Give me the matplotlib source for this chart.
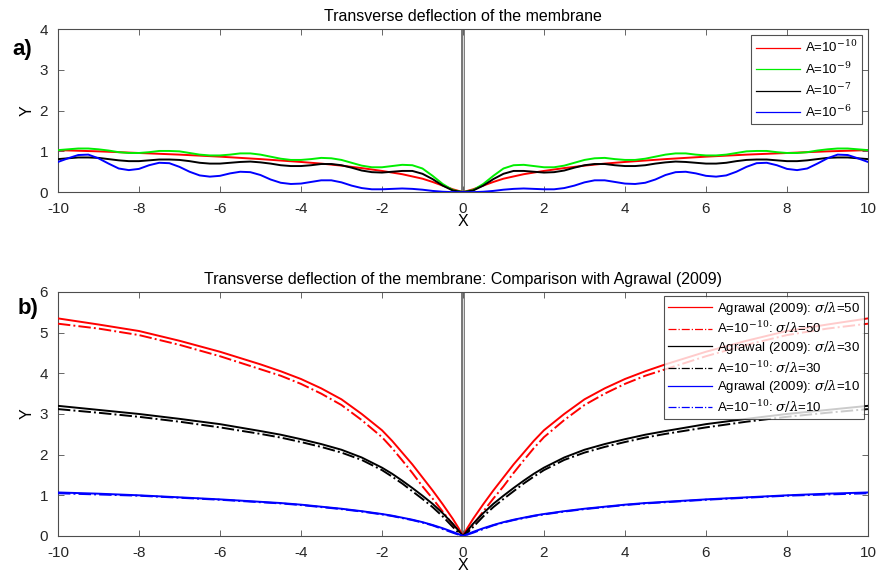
import matplotlib.pyplot as plt
from matplotlib.lines import Line2D
import numpy as np

plt.rcParams['font.family'] = ['Liberation Sans', 'DejaVu Sans']
plt.rcParams['mathtext.fontset'] = 'dejavuserif'
plt.rcParams['axes.unicode_minus'] = False

# --- DATA: panel a (right half, x >= 0; mirrored for x < 0) ---
X_A = [0, 0.25, 0.5, 0.75, 1.0, 1.25, 1.5, 1.75, 2.0, 2.25, 2.5, 2.75, 3.0, 3.25,
       3.5, 3.75, 4.0, 4.25, 4.5, 4.75, 5.0, 5.25, 5.5, 5.75, 6.0, 6.25, 6.5, 6.75,
       7.0, 7.25, 7.5, 7.75, 8.0, 8.25, 8.5, 8.75, 9.0, 9.25, 9.5, 9.75, 10.0]
Y_A9 = [0, 0.05, 0.2, 0.4, 0.58, 0.66, 0.67, 0.64, 0.61, 0.61, 0.65, 0.72, 0.79, 0.83,
        0.84, 0.81, 0.79, 0.79, 0.82, 0.87, 0.92, 0.95, 0.95, 0.92, 0.90, 0.90, 0.92, 0.96,
        1.0, 1.01, 1.01, 0.98, 0.96, 0.96, 0.98, 1.02, 1.05, 1.07, 1.07, 1.05, 1.03]
Y_A7 = [0, 0.04, 0.16, 0.32, 0.45, 0.52, 0.52, 0.50, 0.48, 0.49, 0.53, 0.60, 0.66, 0.69,
        0.69, 0.66, 0.64, 0.64, 0.66, 0.70, 0.73, 0.75, 0.74, 0.72, 0.70, 0.70, 0.72, 0.76,
        0.79, 0.80, 0.80, 0.78, 0.76, 0.76, 0.78, 0.81, 0.84, 0.85, 0.85, 0.83, 0.81]
Y_A6 = [0, 0.0, 0.01, 0.03, 0.06, 0.08, 0.09, 0.08, 0.07, 0.07, 0.10, 0.16, 0.24, 0.29,
        0.29, 0.25, 0.21, 0.20, 0.23, 0.31, 0.42, 0.49, 0.50, 0.46, 0.40, 0.38, 0.41, 0.50,
        0.62, 0.71, 0.72, 0.66, 0.57, 0.54, 0.58, 0.70, 0.83, 0.92, 0.91, 0.83, 0.74]
X_A10 = [0, 0.25, 0.5, 0.75, 1.0, 1.5, 2.0, 2.5, 3.0, 3.5, 4.0, 5.0, 6.0, 7.0, 8.0, 9.0, 10.0]
Y_A10 = [0, 0.07, 0.16, 0.25, 0.33, 0.44, 0.52, 0.59, 0.65, 0.70, 0.74, 0.81, 0.87, 0.92,
         0.96, 1.00, 1.03]
LABELS_A = ['A=10$^{-10}$', 'A=10$^{-9}$', 'A=10$^{-7}$', 'A=10$^{-6}$']

# --- DATA: panel b (right half, mirrored) ---
X_B = [0, 0.1, 0.25, 0.5, 0.75, 1.0, 1.25, 1.5, 1.75, 2.0, 2.5, 3.0, 3.5, 4.0, 4.5,
       5.0, 6.0, 7.0, 8.0, 9.0, 10.0]
AGR_50 = [0, 0.18, 0.42, 0.78, 1.12, 1.44, 1.76, 2.05, 2.34, 2.6, 3.0, 3.36, 3.63, 3.86,
          4.05, 4.22, 4.53, 4.8, 5.04, 5.2, 5.35]
NUM_50 = [0, 0.1, 0.28, 0.6, 0.92, 1.22, 1.55, 1.86, 2.16, 2.43, 2.85, 3.22, 3.5, 3.74,
          3.94, 4.1, 4.42, 4.7, 4.94, 5.1, 5.22]
AGR_30 = [0, 0.12, 0.3, 0.56, 0.79, 0.99, 1.18, 1.36, 1.53, 1.68, 1.93, 2.12, 2.26, 2.38,
          2.49, 2.58, 2.75, 2.88, 3.0, 3.1, 3.2]
NUM_30 = [0, 0.07, 0.22, 0.48, 0.71, 0.91, 1.1, 1.29, 1.46, 1.62, 1.87, 2.05, 2.19, 2.31,
          2.42, 2.51, 2.67, 2.81, 2.93, 3.03, 3.12]
AGR_10 = [0, 0.04, 0.1, 0.19, 0.27, 0.34, 0.4, 0.45, 0.5, 0.54, 0.61, 0.67, 0.72, 0.77,
          0.81, 0.84, 0.9, 0.95, 1.0, 1.04, 1.07]
NUM_10 = [0, 0.03, 0.08, 0.17, 0.26, 0.33, 0.39, 0.44, 0.49, 0.53, 0.6, 0.66, 0.71, 0.76,
          0.8, 0.83, 0.89, 0.94, 0.99, 1.02, 1.05]
RATIOS = [50, 30, 10]

COLS = ['#ff0000', '#00ee00', '#000000', '#0000ff']
AX_GRAY = '#4d4d4d'


def mirror(x, y):
    x = np.asarray(x, float)
    y = np.asarray(y, float)
    return np.concatenate([-x[::-1], x[1:]]), np.concatenate([y[::-1], y[1:]])


def matlab_axes(ax, ymax):
    ax.set_xlim(-10, 10)
    ax.set_ylim(0, ymax)
    ax.set_xticks(np.arange(-10, 11, 2))
    ax.set_yticks(np.arange(0, ymax + 1, 1))
    ax.tick_params(direction='in', top=True, right=True, length=4, width=0.6,
                   color=AX_GRAY, labelsize=11, labelcolor='#262626', pad=7)
    for s in ax.spines.values():
        s.set_color(AX_GRAY)
        s.set_linewidth(0.8)
    # membrane at x=0
    ax.axvline(0, color='0.45', lw=2.8, zorder=1)
    ax.axvline(0, color='0.85', lw=0.8, zorder=1)
    ax.set_xlabel('X', fontsize=11.5, labelpad=-1)
    ax.set_ylabel('Y', fontsize=11.5, labelpad=4)


fig = plt.figure(figsize=(8.78, 5.77), dpi=100)
ax1 = fig.add_axes([0.066, 0.667, 0.9226, 0.2827])
ax2 = fig.add_axes([0.066, 0.0711, 0.9226, 0.4229])

# --- panel a ---
series_a = [(X_A10, Y_A10), (X_A, Y_A9), (X_A, Y_A7), (X_A, Y_A6)]
for (xs, ys), c in zip(series_a, COLS):
    xm, ym = mirror(xs, ys)
    ax1.plot(xm, ym, color=c, lw=1.4, zorder=3)
matlab_axes(ax1, 4)
ax1.set_title('Transverse deflection of the membrane', fontsize=11.5, pad=6)
handles = [Line2D([], [], color=c, lw=0.9) for c in COLS]
leg = ax1.legend(handles, LABELS_A, loc='upper right', fontsize=9.5, frameon=True,
                 fancybox=False, edgecolor='#262626', handlelength=3.4,
                 borderaxespad=0.45, labelspacing=0.42, handletextpad=0.35,
                 borderpad=0.35)
leg.get_frame().set_linewidth(0.8)

# --- panel b ---
pairs = [(AGR_50, NUM_50, COLS[0]), (AGR_30, NUM_30, COLS[2]), (AGR_10, NUM_10, COLS[3])]
handles_b, labels_b = [], []
for (agr, num, c), r in zip(pairs, RATIOS):
    xm, ym = mirror(X_B, agr)
    ax2.plot(xm, ym, color=c, lw=1.4, zorder=3)
    xm, ym = mirror(X_B, num)
    ax2.plot(xm, ym, color=c, lw=1.4, ls='-.', zorder=3)
    handles_b += [Line2D([], [], color=c, lw=0.9),
                  Line2D([], [], color=c, lw=0.9, ls='-.')]
    labels_b += [r'Agrawal (2009): $\sigma/\lambda$=%d' % r,
                 r'A=10$^{-10}$: $\sigma/\lambda$=%d' % r]
matlab_axes(ax2, 6)
ax2.set_title('Transverse deflection of the membrane: Comparison with Agrawal (2009)',
              fontsize=11.5, pad=6)
leg = ax2.legend(handles_b, labels_b, loc='upper right', fontsize=9.5, frameon=True,
                 fancybox=False, edgecolor='#262626', handlelength=3.4,
                 borderaxespad=0.3, labelspacing=0.2, handletextpad=0.35,
                 borderpad=0.3)
leg.get_frame().set_linewidth(0.8)

fig.text(0.014, 0.905, 'a)', fontsize=16, fontweight='bold')
fig.text(0.02, 0.455, 'b)', fontsize=16, fontweight='bold')

fig.savefig('out.png', dpi=100)
